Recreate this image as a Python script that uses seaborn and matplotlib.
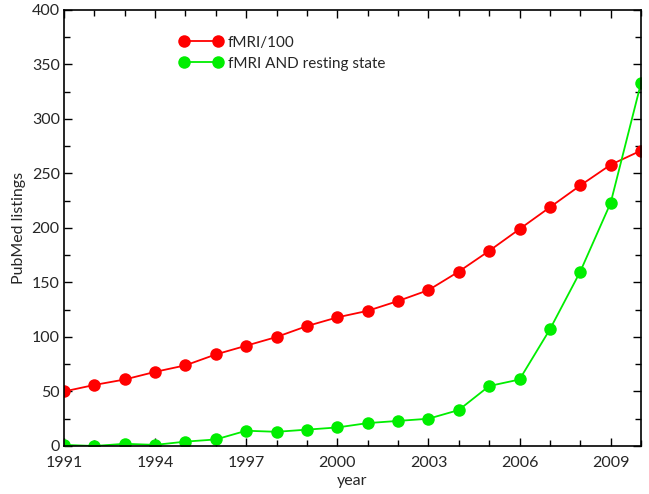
import matplotlib
matplotlib.use("Agg")
import matplotlib.pyplot as plt
import pandas as pd
import seaborn as sns
from matplotlib.ticker import FixedLocator, MultipleLocator

years = list(range(1991, 2011))
fmri_100 = [50, 56, 61, 68, 74, 84, 92, 100, 110, 118,
            124, 133, 143, 160, 179, 199, 219, 239, 258, 271]
fmri_rest = [1, 0, 2, 1, 4, 6, 14, 13, 15, 17,
             21, 23, 25, 33, 55, 61, 107, 160, 223, 333]
year_ticks = [1991, 1994, 1997, 2000, 2003, 2006, 2009]
labels = ['fMRI/100', 'fMRI AND resting state']
colors = ['#ff0000', '#00ee00']

df = pd.DataFrame({'year': years * 2,
                   'value': fmri_100 + fmri_rest,
                   'series': [labels[0]] * len(years) + [labels[1]] * len(years)})

sns.set_style("ticks")
plt.rcParams['font.family'] = ['Lato', 'DejaVu Sans']

fig = plt.figure(figsize=(6.49, 4.94), dpi=100)
ax = fig.add_axes([0.0986, 0.0972, 0.8891, 0.8826])

for lab, col in zip(labels, colors):
    sub = df[df['series'] == lab]
    sns.lineplot(data=sub, x='year', y='value', ax=ax, color=col,
                 marker='o', markersize=9, markeredgewidth=0, linewidth=1.3,
                 label=lab)

ax.set_xlim(1991, 2010)
ax.set_ylim(0, 400)
ax.xaxis.set_major_locator(FixedLocator(year_ticks))
ax.xaxis.set_minor_locator(FixedLocator(years))
ax.yaxis.set_major_locator(MultipleLocator(50))
ax.yaxis.set_minor_locator(MultipleLocator(25))
ax.tick_params(which='both', direction='in', top=True, right=True,
               labelsize=11.5, width=1, color='k', pad=3)
ax.tick_params(axis='x', which='both', pad=7)
ax.tick_params(which='major', length=6)
ax.tick_params(which='minor', length=4)
for s in ax.spines.values():
    s.set_linewidth(1.2)
    s.set_color('k')
ax.set_xlabel('year', fontsize=11.5, labelpad=3)
ax.set_ylabel('PubMed listings', fontsize=11.5)

ax.legend(loc='upper left', bbox_to_anchor=(0.19, 0.955), frameon=False,
          numpoints=2, fontsize=11, handlelength=2.8, handletextpad=0.35,
          labelspacing=0.45, borderaxespad=0)

fig.savefig('out.png', dpi=100)
